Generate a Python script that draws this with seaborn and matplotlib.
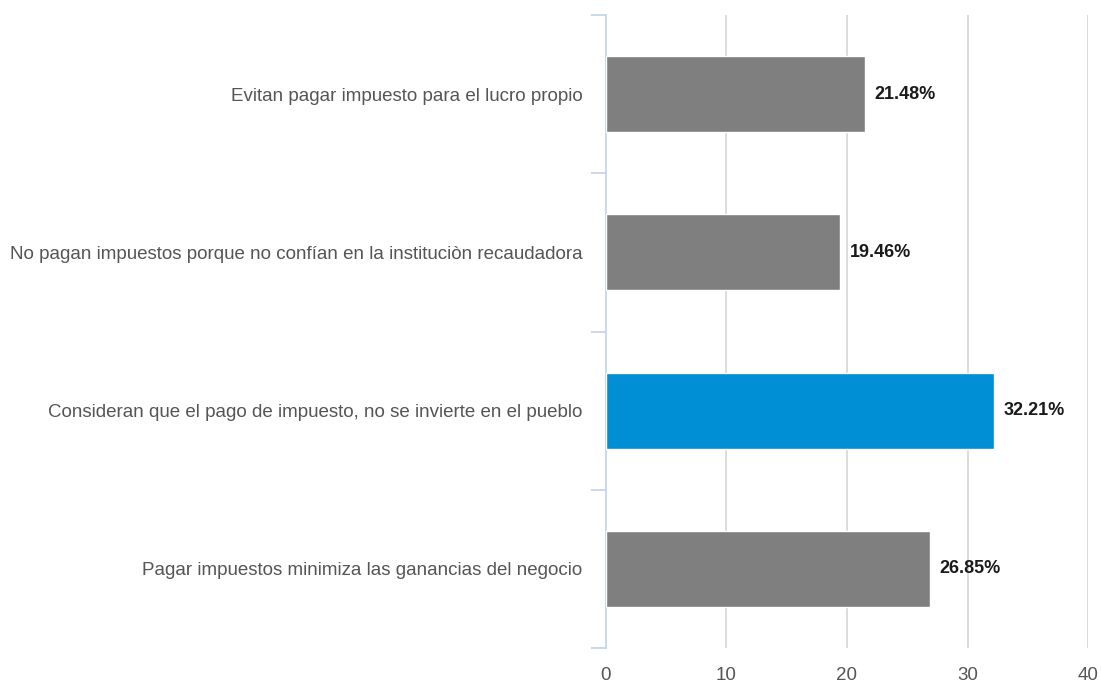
import matplotlib
matplotlib.use("Agg")
import matplotlib.pyplot as plt
import seaborn as sns
import numpy as np

# Datos del gráfico
categorias = [
    "Evitan pagar impuesto para el lucro propio",
    "No pagan impuestos porque no confían en la instituciòn recaudadora",
    "Consideran que el pago de impuesto, no se invierte en el pueblo",
    "Pagar impuestos minimiza las ganancias del negocio",
]
porcentajes = [21.48, 19.46, 32.21, 26.85]
colores = ["#7f7f7f", "#7f7f7f", "#008fd5", "#7f7f7f"]
ticks_x = [0, 10, 20, 30, 40]

sns.set_theme(style="white")
plt.rcParams["font.family"] = ["Liberation Sans", "DejaVu Sans"]

fig = plt.figure(figsize=(11.01, 6.84), dpi=100)
ax = fig.add_axes([0.5504, 0.0526, 0.4378, 0.9254])

sns.barplot(x=porcentajes, y=categorias, hue=categorias, palette=colores,
            legend=False, orient="h", width=0.48, saturation=1, ax=ax, zorder=3)

# Etiquetas de valores
for i, v in enumerate(porcentajes):
    ax.text(v + 0.8, i, f"{v:.2f}%", va="center", ha="left",
            fontsize=13, fontweight="bold", color="#1a1a1a")

ax.set_xlim(0, 40)
ax.set_ylim(3.5, -0.5)
ax.set_xticks(ticks_x)
ax.set_xticklabels([str(t) for t in ticks_x])
ax.set_xlabel("")
ax.set_ylabel("")

# Cuadrícula vertical
for t in ticks_x[1:]:
    ax.axvline(t, color="#d9d9d9", lw=1.3, zorder=1)

for s in ["top", "right", "bottom"]:
    ax.spines[s].set_visible(False)
ax.spines["left"].set_color("#c6d6ea")
ax.spines["left"].set_linewidth(1.3)

ax.set_yticks(np.arange(-0.5, 4, 1), minor=True)
ax.tick_params(axis="y", which="minor", length=11, width=1.3, color="#c6d6ea", left=True)
ax.tick_params(axis="y", which="major", length=0, pad=17, labelsize=13.5, labelcolor="#555555")
ax.tick_params(axis="x", length=0, pad=14, labelsize=13.5, labelcolor="#555555")

fig.savefig("out.png", dpi=100)
